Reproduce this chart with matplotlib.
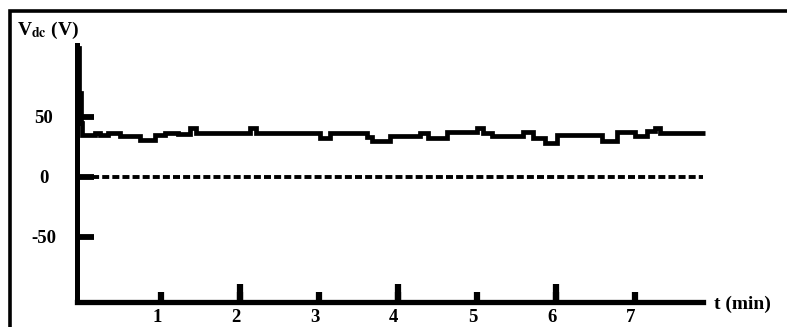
import matplotlib
matplotlib.use("Agg")
import matplotlib.pyplot as plt
import matplotlib.transforms as mtrans
from matplotlib.patches import Rectangle

# DC voltage trace (steps), t in minutes, V in volts
t_vdc = [-0.05, -0.03, -0.01, 0.0, 0.16, 0.23, 0.33, 0.48, 0.73, 0.92, 1.05, 1.22,
         1.37, 1.44, 2.13, 2.20, 3.01, 3.14, 3.61, 3.67, 3.90, 4.28, 4.38, 4.62,
         5.00, 5.08, 5.19, 5.58, 5.71, 5.86, 6.01, 6.58, 6.78, 7.00, 7.15, 7.25,
         7.32, 7.89]
v_vdc = [108, 70, 45, 35, 37, 35, 37, 34, 31, 35, 37, 36,
         41, 37, 41, 37, 32, 37, 33, 30, 34, 37, 32.5, 37.5,
         41, 37, 34, 37.5, 32.5, 28, 35, 30, 37.5, 34, 38, 41,
         37, 37]

# reference (zero) trace
t_ref = [0.0, 7.89]
v_ref = [0, 0]

x_ticks = [1, 2, 3, 4, 5, 6, 7]
x_long = [2, 4, 6]
y_ticks = [-50, 0, 50]

plt.rcParams['font.family'] = ['Liberation Serif', 'DejaVu Serif']
plt.rcParams['font.weight'] = 'bold'
plt.rcParams['mathtext.fontset'] = 'stix'

fig = plt.figure(figsize=(7.87, 3.27), dpi=100)
ax = fig.add_axes([0.098, 0.0765, 0.795, 0.7855])

ax.plot(t_vdc, v_vdc, color='black', lw=3.4, drawstyle='steps-post',
        solid_joinstyle='miter', solid_capstyle='butt', clip_on=False)
ax.plot(t_ref, v_ref, color='black', lw=2.8, linestyle=(0, (1.8, 0.8)),
        dash_capstyle='butt')

ax.set_xlim(-0.06, 7.86)
ax.set_ylim(-104.6, 110)

ax.spines['top'].set_visible(False)
ax.spines['right'].set_visible(False)
ax.spines['left'].set_linewidth(3.6)
ax.spines['bottom'].set_linewidth(3.8)

ax.xaxis.remove_overlapping_locs = False
ax.set_xticks(x_ticks)
ax.set_xticklabels([str(v) for v in x_ticks])
ax.set_xticks(x_long, minor=True)
ax.tick_params(axis='x', which='major', direction='in', length=7.5, width=4.5,
               pad=5, labelsize=13.5)
ax.tick_params(axis='x', which='minor', direction='in', length=13, width=4.5)

ax.set_yticks(y_ticks)
ax.set_yticklabels(['-50', '0', '50'])
ax.tick_params(axis='y', direction='in', length=12, width=4.2, pad=24, labelsize=13.5)
for lab in ax.get_yticklabels():
    lab.set_ha('center')

# x labels sit slightly left of their ticks in the original
shift = mtrans.ScaledTranslation(-4 / 100, 0, fig.dpi_scale_trans)
for lab in ax.get_xticklabels():
    lab.set_transform(lab.get_transform() + shift)

fig.text(17 / 787, 1 - 30 / 327, r'V$_{\mathbf{dc}}$ (V)', fontsize=14,
         fontweight='bold', va='center', ha='left')
fig.text(714 / 787, 1 - 304 / 327, 't (min)', fontsize=14, fontweight='bold',
         va='center', ha='left')

# outer frame, cut off at right and bottom like the scan
fig.patches.append(Rectangle((10 / 787, -0.1), 1.2, (327 - 11) / 327 + 0.1,
                             transform=fig.transFigure, fill=False,
                             edgecolor='black', lw=2.6, clip_on=False))

fig.savefig('out.png', dpi=100)
